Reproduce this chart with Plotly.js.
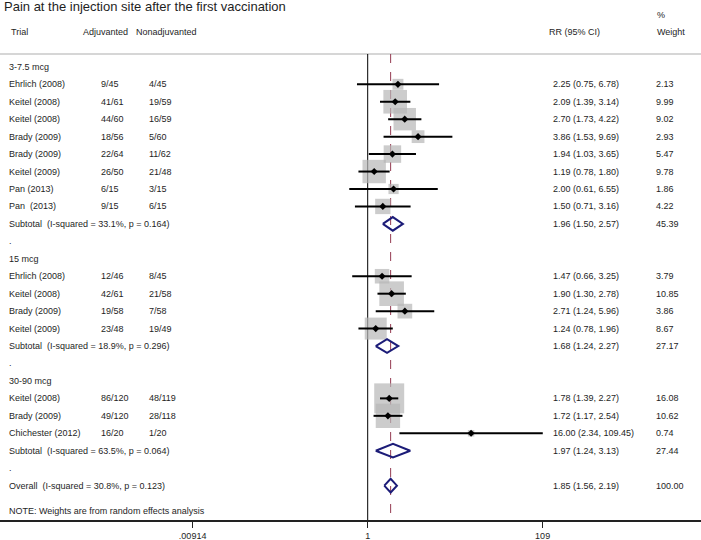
<!DOCTYPE html>
<html><head><meta charset="utf-8">
<script src="https://cdn.plot.ly/plotly-3.0.1.min.js"></script>
<style>html,body{margin:0;padding:0;background:#fff}#chart{width:701px;height:540px}</style>
</head><body><div id="chart"></div>
<script>
// ---- data ----
const groupNames = ["3-7.5 mcg", "15 mcg", "30-90 mcg"];
const studyGroup = [0,0,0,0,0,0,0,0, 1,1,1,1, 2,2,2];
const studyLabels = ["Ehrlich (2008)","Keitel (2008)","Keitel (2008)","Brady (2009)","Brady (2009)","Keitel (2009)","Pan (2013)","Pan  (2013)",
  "Ehrlich (2008)","Keitel (2008)","Brady (2009)","Keitel (2009)",
  "Keitel (2008)","Brady (2009)","Chichester (2012)"];
const adjuvanted = ["9/45","41/61","44/60","18/56","22/64","26/50","6/15","9/15",
  "12/46","42/61","19/58","23/48",
  "86/120","49/120","16/20"];
const nonadjuvanted = ["4/45","19/59","16/59","5/60","11/62","21/48","3/15","6/15",
  "8/45","21/58","7/58","19/49",
  "48/119","28/118","1/20"];
const studyRR = [2.25,2.09,2.70,3.86,1.94,1.19,2.00,1.50, 1.47,1.90,2.71,1.24, 1.78,1.72,16.00];
const studyLo = [0.75,1.39,1.73,1.53,1.03,0.78,0.61,0.71, 0.66,1.30,1.24,0.78, 1.39,1.17,2.34];
const studyHi = [6.78,3.14,4.22,9.69,3.65,1.80,6.55,3.16, 3.25,2.78,5.96,1.96, 2.27,2.54,109.45];
const studyWeight = [2.13,9.99,9.02,2.93,5.47,9.78,1.86,4.22, 3.79,10.85,3.86,8.67, 16.08,10.62,0.74];

const subtotalLabels = ["Subtotal  (I-squared = 33.1%, p = 0.164)","Subtotal  (I-squared = 18.9%, p = 0.296)","Subtotal  (I-squared = 63.5%, p = 0.064)"];
const subtotalRR = [1.96,1.68,1.97];
const subtotalLo = [1.50,1.24,1.24];
const subtotalHi = [2.57,2.27,3.13];
const subtotalWeight = [45.39,27.17,27.44];

const overallLabel = "Overall  (I-squared = 30.8%, p = 0.123)";
const overallRR = 1.85, overallLo = 1.56, overallHi = 2.19, overallWeight = 100.00;

const titleText = "Pain at the injection site after the first vaccination";
const noteText = "NOTE: Weights are from random effects analysis";
const tickVals = [0.00914, 1, 109];
const tickText = [".00914", "1", "109"];

// ---- build rows ----
const W = 701;
const FONT = "Liberation Sans, Arial, sans-serif";
const TXT = "#1e1e1e";
const fmt = v => v.toFixed(2);
const rows = [];
let k = 0;
groupNames.forEach((g, gi) => {
  rows.push({k: k++, label: g, type: "head"});
  studyGroup.forEach((sg, i) => {
    if (sg !== gi) return;
    rows.push({k: k++, label: studyLabels[i], adj: adjuvanted[i], non: nonadjuvanted[i],
      rr: studyRR[i], lo: studyLo[i], hi: studyHi[i], w: studyWeight[i], type: "study"});
  });
  rows.push({k: k++, label: subtotalLabels[gi], rr: subtotalRR[gi], lo: subtotalLo[gi], hi: subtotalHi[gi], w: subtotalWeight[gi], type: "sub"});
  rows.push({k: k++, label: ".", type: "dot"});
});
rows.push({k: k++, label: overallLabel, rr: overallRR, lo: overallLo, hi: overallHi, w: overallWeight, type: "sub"});

const studies = rows.filter(r => r.type === "study");
const subs = rows.filter(r => r.type === "sub");

const traces = [];
traces.push({type: "scatter", mode: "markers", x: studies.map(r => r.rr), y: studies.map(r => r.k),
  marker: {symbol: "square", size: studies.map(r => 7.48 * Math.sqrt(r.w)), color: "#b6b6b6", line: {width: 0}},
  hoverinfo: "skip", showlegend: false});
const cx = [], cy = [];
studies.forEach(r => { cx.push(r.lo, r.hi, null); cy.push(r.k, r.k, null); });
traces.push({type: "scatter", mode: "lines", x: cx, y: cy, line: {color: "#000", width: 2}, hoverinfo: "skip", showlegend: false});
traces.push({type: "scatter", mode: "markers", x: studies.map(r => r.rr), y: studies.map(r => r.k),
  marker: {symbol: "diamond", size: 5.5, color: "#000"}, hoverinfo: "skip", showlegend: false});
const dh = 0.39;
const dx = [], dy = [];
subs.forEach(r => { dx.push(r.lo, r.rr, r.hi, r.rr, r.lo, null); dy.push(r.k, r.k - dh, r.k, r.k + dh, r.k, null); });
traces.push({type: "scatter", mode: "lines", x: dx, y: dy, line: {color: "#1c1c78", width: 2}, hoverinfo: "skip", showlegend: false});

const ann = [];
function t(px, y, text, size) {
  ann.push({xref: "paper", yref: "y", x: px / W, y: y, text: text, showarrow: false,
    xanchor: "left", yanchor: "middle", font: {family: FONT, size: size || 9, color: TXT}});
}
t(2, -3.45, titleText, 13);
t(9, -2.0, "Trial");
t(81, -2.0, "Adjuvanted");
t(134, -2.0, "Nonadjuvanted");
t(547, -2.0, "RR (95% CI)");
t(655, -3.0, "%");
t(655, -2.0, "Weight");
rows.forEach(r => {
  t(7, r.k, r.label);
  if (r.type === "study") { t(99, r.k, r.adj); t(147, r.k, r.non); }
  if (r.type === "study" || r.type === "sub") {
    t(551, r.k, fmt(r.rr) + " (" + fmt(r.lo) + ", " + fmt(r.hi) + ")");
    t(654, r.k, fmt(r.w));
  }
});
t(7, 25.44, noteText);

const yTop = -0.736, yBot = 25.97;
const shapes = [
  {type: "line", layer: "below", xref: "paper", yref: "y", x0: 0, x1: 1, y0: yTop, y1: yTop, line: {color: "#c8c8c8", width: 1.5}},
  {type: "line", layer: "below", xref: "x", yref: "y", x0: 1, x1: 1, y0: yTop, y1: yBot, line: {color: "#000", width: 1}},
  {type: "line", layer: "below", xref: "x", yref: "y", x0: overallRR, x1: overallRR, y0: yTop, y1: yBot, line: {color: "#943b52", width: 1, dash: "dash"}}
];

// pixel span between outer ticks (.00914 -> 109) is about 350 px
const pxPerDec = 350 / (Math.log10(109) - Math.log10(0.00914));
const oneX = 367.7;
const layout = {
  width: 701, height: 540,
  margin: {l: 0, r: 0, t: 0, b: 20},
  paper_bgcolor: "#fff", plot_bgcolor: "#fff",
  showlegend: false,
  xaxis: {type: "log", range: [-oneX / pxPerDec, (W - oneX) / pxPerDec], tickvals: tickVals, ticktext: tickText,
    ticks: "outside", ticklen: 6, tickwidth: 1.5, tickcolor: "#222", showline: true, linecolor: "#222", linewidth: 2,
    showgrid: false, zeroline: false, tickfont: {family: FONT, size: 9, color: TXT}, fixedrange: true},
  yaxis: {range: [yBot, yTop - 3.095], visible: false, showgrid: false, zeroline: false, fixedrange: true},
  annotations: ann, shapes: shapes
};
Plotly.newPlot("chart", traces, layout, {displayModeBar: false, staticPlot: true});
</script></body></html>
